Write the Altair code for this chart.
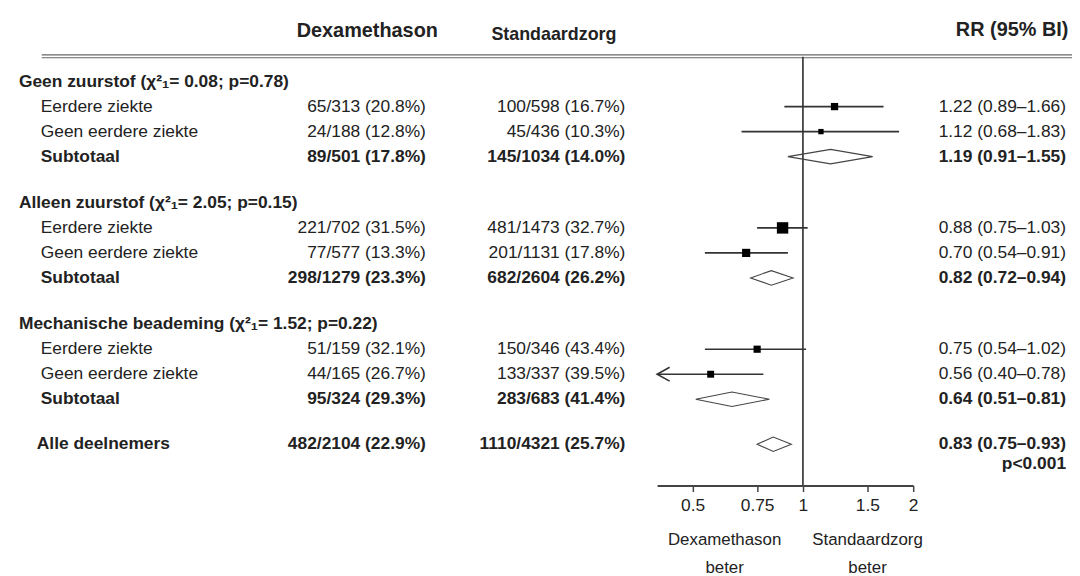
import math
import altair as alt
import pandas as pd

# ---------------- data ----------------
groups = ["Geen zuurstof", "Alleen zuurstof", "Mechanische beademing"]
group_chi2 = ["0.08", "2.05", "1.52"]
group_p = ["0.78", "0.15", "0.22"]
sub_labels = ["Eerdere ziekte", "Geen eerdere ziekte", "Subtotaal"]

dexa_events = [65, 24, 89, 221, 77, 298, 51, 44, 95]
dexa_total = [313, 188, 501, 702, 577, 1279, 159, 165, 324]
std_events = [100, 45, 145, 481, 201, 682, 150, 133, 283]
std_total = [598, 436, 1034, 1473, 1131, 2604, 346, 337, 683]
rr_est = [1.22, 1.12, 1.19, 0.88, 0.70, 0.82, 0.75, 0.56, 0.64]
rr_lo = [0.89, 0.68, 0.91, 0.75, 0.54, 0.72, 0.54, 0.40, 0.51]
rr_hi = [1.66, 1.83, 1.55, 1.03, 0.91, 0.94, 1.02, 0.78, 0.81]

all_label = "Alle deelnemers"
all_dexa = [482, 2104]
all_std = [1110, 4321]
all_rr = [0.83, 0.75, 0.93]
all_p = "p<0.001"

col_headers = ["Dexamethason", "Standaardzorg", "RR (95% BI)"]
foot_labels = ["Dexamethason", "Standaardzorg"]
foot_word = "beter"
tick_values = [0.5, 0.75, 1, 1.5, 2]
x_domain = [0.4, 2]

# ---------------- build table ----------------
def frac(e, n):
    return f"{e}/{n} ({100 * e / n:.1f}%)"

def rr_txt(est, lo, hi):
    return f"{est:.2f} ({lo:.2f}\u2013{hi:.2f})"

headers = []
rows = []
pos = 0.0
k = 0
for gi, g in enumerate(groups):
    headers.append({"pos": pos, "label": f"{g} (\u03c7\u00b2\u2081= {group_chi2[gi]}; p={group_p[gi]})"})
    for si, s in enumerate(sub_labels):
        est, lo, hi = rr_est[k], rr_lo[k], rr_hi[k]
        se = (math.log(hi) - math.log(lo)) / (2 * 1.96)
        rows.append({
            "pos": pos + 1 + si,
            "label": s,
            "kind": "sub" if si == 2 else "row",
            "dexa": frac(dexa_events[k], dexa_total[k]),
            "std": frac(std_events[k], std_total[k]),
            "rr": rr_txt(est, lo, hi),
            "est": est, "lo": lo, "hi": hi,
            "lo_c": max(lo, x_domain[0]),
            "arrow": lo <= x_domain[0],
            "w": 1 / se ** 2,
        })
        k += 1
    pos += 4.85
total_pos = rows[-1]["pos"] + 1.8
rows.append({
    "pos": total_pos, "label": all_label, "kind": "total",
    "dexa": frac(*all_dexa), "std": frac(*all_std),
    "rr": rr_txt(*all_rr), "est": all_rr[0], "lo": all_rr[1], "hi": all_rr[2],
    "lo_c": max(all_rr[1], x_domain[0]), "arrow": False, "w": 0.0,
})

df = pd.DataFrame(rows)
dh = pd.DataFrame(headers)
d_rows = df[df.kind == "row"]
d_bold = df[df.kind != "row"]
d_sub = df[df.kind == "sub"]
d_tot = df[df.kind == "total"]
d_arrow = d_rows[d_rows.arrow]

dia = []
for _, r in df[df.kind != "row"].iterrows():
    h = 0.29
    dia += [
        {"id": r.label + str(r.pos), "xv": r.lo, "y1": r.pos, "y2": r.pos},
        {"id": r.label + str(r.pos), "xv": r.est, "y1": r.pos - h, "y2": r.pos + h},
        {"id": r.label + str(r.pos), "xv": r.hi, "y1": r.pos, "y2": r.pos},
    ]
ddia = pd.DataFrame(dia)

# ---------------- scales ----------------
W, H = 1072, 479
FONT = "Liberation Sans, Arial, DejaVu Sans"
TXT = "#222222"
FS = 17.5

xscale = alt.Scale(type="log", domain=x_domain, range=[654, 912], nice=False)
xaxis = alt.Axis(values=tick_values, format="~g", title=None, grid=False,
                 domainColor="#444", domainWidth=2, tickColor="#444", tickWidth=1.5,
                 tickSize=6, labelFont=FONT, labelFontSize=FS, labelColor=TXT,
                 labelPadding=5, labelOverlap=False, labelFlush=False)
yscale = alt.Scale(domain=[-72 / 25.2, (H - 72) / 25.2], reverse=True, nice=False, zero=False)

def X(f):
    return alt.X(f, type="quantitative", scale=xscale, axis=xaxis)

def Y(f="pos"):
    return alt.Y(f, type="quantitative", scale=yscale, axis=None)

one = pd.DataFrame({"one": [1.0]})

layers = []

# top double line
for yy in [45, 48]:
    layers.append(alt.Chart(one).mark_rule(color="#666", strokeWidth=1.2).encode(
        x=alt.value(34), x2=alt.value(W), y=alt.value(yy)))

# column headers
hdr_specs = [(col_headers[0], 362, 21, 20, "center"),
             (col_headers[1], 550, 25, 18, "center"),
             (col_headers[2], 955, 20, 20, "left")]
for txt, xx, yy, fs, al in hdr_specs:
    layers.append(alt.Chart(pd.DataFrame({"t": [txt]})).mark_text(
        font=FONT, fontSize=fs, fontWeight="bold", color=TXT, align=al, baseline="middle"
    ).encode(x=alt.value(xx), y=alt.value(yy), text="t:N"))

# group headers
layers.append(alt.Chart(dh).mark_text(font=FONT, fontSize=FS, fontWeight="bold", color=TXT,
                                      align="left", baseline="middle").encode(
    x=alt.value(11), y=Y(), text="label:N"))

# row labels
layers.append(alt.Chart(d_rows).mark_text(font=FONT, fontSize=FS, color=TXT,
                                          align="left", baseline="middle").encode(
    x=alt.value(33), y=Y(), text="label:N"))
layers.append(alt.Chart(d_sub).mark_text(font=FONT, fontSize=FS, fontWeight="bold", color=TXT,
                                         align="left", baseline="middle").encode(
    x=alt.value(33), y=Y(), text="label:N"))
layers.append(alt.Chart(d_tot).mark_text(font=FONT, fontSize=FS, fontWeight="bold", color=TXT,
                                         align="left", baseline="middle").encode(
    x=alt.value(29), y=Y(), text="label:N"))

# numeric columns
for dsub, wgt in [(d_rows, "normal"), (d_bold, "bold")]:
    for col, xx in [("dexa", 421), ("std", 622), ("rr", 1066)]:
        layers.append(alt.Chart(dsub).mark_text(font=FONT, fontSize=FS, fontWeight=wgt, color=TXT,
                                                align="right", baseline="middle").encode(
            x=alt.value(xx), y=Y(), text=f"{col}:N"))

layers.append(alt.Chart(d_tot.assign(p=all_p)).mark_text(
    font=FONT, fontSize=FS, fontWeight="bold", color=TXT, align="right", baseline="middle", dy=20
).encode(x=alt.value(1066), y=Y(), text="p:N"))

# footer labels
for txt, xx in zip(foot_labels, [722, 866]):
    layers.append(alt.Chart(pd.DataFrame({"t": [txt]})).mark_text(
        font=FONT, fontSize=17, color=TXT, align="center", baseline="middle"
    ).encode(x=alt.value(xx), y=alt.value(534), text="t:N"))
    layers.append(alt.Chart(pd.DataFrame({"t": [foot_word]})).mark_text(
        font=FONT, fontSize=17, color=TXT, align="center", baseline="middle"
    ).encode(x=alt.value(xx), y=alt.value(562), text="t:N"))

# diamonds
layers.append(alt.Chart(ddia).mark_area(orient="vertical", fill="white", stroke="#444",
                                        strokeWidth=1.1, interpolate="linear").encode(
    x=X("xv"), y=Y("y1"), y2="y2", detail="id:N"))

# line of no effect
layers.append(alt.Chart(one).mark_rule(color="#444", strokeWidth=1.8).encode(
    x=X("one"), y=alt.value(47), y2=alt.value(H)))

# confidence intervals
layers.append(alt.Chart(d_rows).mark_rule(color="#333", strokeWidth=1.6).encode(
    x=X("lo_c"), x2="hi", y=Y()))

# arrows for truncated intervals
layers.append(alt.Chart(d_arrow).mark_point(shape="M1.8,-1L0,0L1.8,1", filled=False,
                                            stroke="#333", strokeWidth=1.6, size=196,
                                            opacity=1).encode(
    x=X("lo_c"), y=Y()))

# point estimates
layers.append(alt.Chart(d_rows).mark_square(color="black", opacity=1).encode(
    x=X("est"), y=Y(),
    size=alt.Size("w:Q", scale=alt.Scale(type="pow", exponent=2 / 3,
                                         domain=[0, float(d_rows.w.max())], range=[0, 132]),
                  legend=None)))

chart = alt.layer(*layers).properties(
    width=W, height=H,
    autosize=alt.AutoSizeParams(type="none"),
    padding={"left": 0, "top": 0, "right": 0, "bottom": 89},
    background="white",
).configure_view(strokeWidth=0)

chart.save("out.html", embed_options={"renderer": "svg", "actions": False})
